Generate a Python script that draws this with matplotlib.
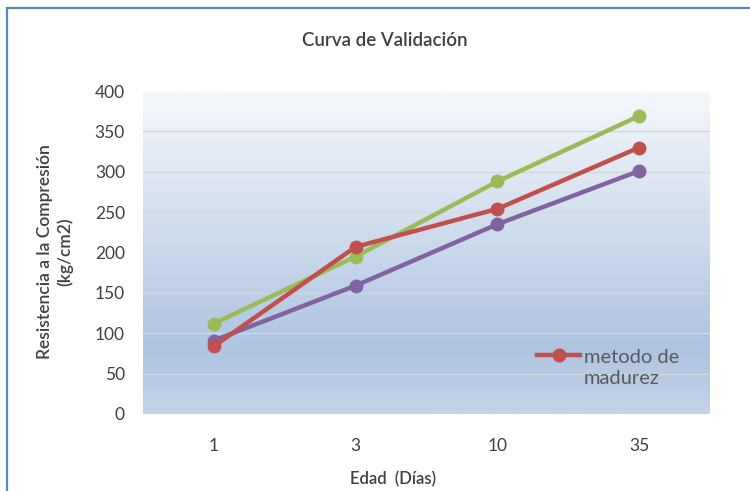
import numpy as np
import matplotlib
matplotlib.use("Agg")
import matplotlib.pyplot as plt
from matplotlib.colors import LinearSegmentedColormap
from matplotlib.patches import Rectangle
from matplotlib.lines import Line2D

plt.rcParams['font.family'] = ['Lato', 'DejaVu Sans']

categories = ['1', '3', '10', '35']
red_vals = [84, 207, 254, 330]
green_vals = [112, 195, 288, 369]
purple_vals = [91, 159, 235, 301]
yticks = [0, 50, 100, 150, 200, 250, 300, 350, 400]

W, H = 750, 491
fig = plt.figure(figsize=(7.5, 4.91), dpi=100)

# figure border (blue)
fig.patches.append(Rectangle((7 / W, -0.1), 1.2, 1 - 8 / H + 0.1, transform=fig.transFigure,
                             fill=False, edgecolor='#5b86c4', linewidth=1.6))

x0, x1 = 143, 710
y0, y1 = 91, 414
ax = fig.add_axes([x0 / W, 1 - y1 / H, (x1 - x0) / W, (y1 - y0) / H])

# gradient background
cmap = LinearSegmentedColormap.from_list('bg', [(0.0, '#c3d3e9'), (0.2, '#aec4e0'), (1.0, '#f6f8fb')])
grad = np.linspace(0, 1, 256).reshape(-1, 1)
ax.imshow(grad, extent=[0, 1, 0, 1], transform=ax.transAxes, cmap=cmap, origin='lower',
          aspect='auto', zorder=0)

xs = np.arange(len(categories))
ax.set_xlim(-0.5, len(categories) - 0.5)
ax.set_ylim(0, 400)
ax.set_yticks(yticks)
ax.set_xticks(xs)
ax.set_xticklabels(categories)
for v in yticks[1:-1]:
    ax.axhline(v, color='#d4d8de', linewidth=1.0, zorder=1)

lw = 3.2
ms = 9
ax.plot(xs, red_vals, color='#c0504d', lw=lw, marker='o', ms=ms, zorder=4)
ax.plot(xs, green_vals, color='#9bbb59', lw=lw, marker='o', ms=ms, zorder=3)
ax.plot(xs, purple_vals, color='#8064a2', lw=lw, marker='o', ms=ms, zorder=3)

for s in ax.spines.values():
    s.set_visible(False)
ax.tick_params(axis='both', length=0, labelsize=12.5, colors='#404040')
ax.tick_params(axis='y', pad=13)
ax.tick_params(axis='x', pad=17)

fig.text(385 / W, 1 - 40 / H, 'Curva de Validación', ha='center', va='center',
         fontsize=13.5, color='#404040', fontweight='semibold')
fig.text(393 / W, 1 - 479 / H, 'Edad  (Días)', ha='center', va='center',
         fontsize=12, color='#404040', fontweight='semibold')
fig.text(55 / W, 1 - 252 / H, 'Resistencia a la Compresión\n(kg/cm2)', ha='center', va='center',
         rotation=90, fontsize=12.5, color='#404040', fontweight='semibold', linespacing=1.25)

# legend (red series only)
fig.add_artist(Line2D([537 / W, 580 / W], [1 - 355 / H, 1 - 355 / H], color='#c0504d', lw=3.2,
                      transform=fig.transFigure))
fig.add_artist(Line2D([559 / W], [1 - 355 / H], color='#c0504d', marker='o', ms=9,
                      transform=fig.transFigure))
fig.text(584 / W, 1 - 368 / H, 'metodo de\nmadurez', ha='left', va='center',
         fontsize=14.5, color='#595959', linespacing=1.25)

fig.savefig('out.png', dpi=100)
